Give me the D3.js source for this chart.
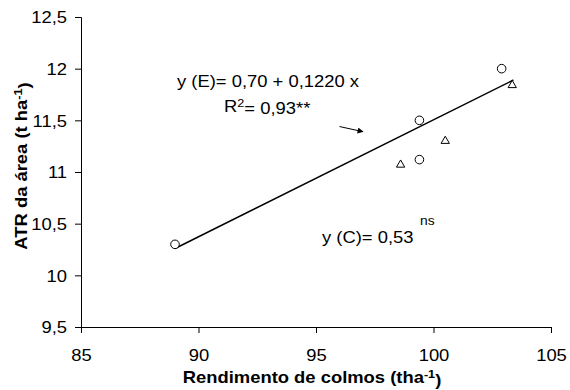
<!DOCTYPE html>
<html>
<head>
<meta charset="utf-8">
<script src="https://cdn.jsdelivr.net/npm/d3@7"></script>
<style>
  html, body { margin: 0; padding: 0; background: #fff; }
  svg { display: block; }
  text { font-family: "Liberation Sans", Arial, sans-serif; fill: #000; }
</style>
</head>
<body>
<svg id="chart" width="570" height="390"></svg>
<script>
// ---- data ----
const circleX = [89.0, 99.4, 99.4, 102.9];
const circleY = [10.30, 11.50, 11.12, 12.00];
const triangleX = [98.6, 100.5, 103.35];
const triangleY = [11.07, 11.30, 11.84];
const fitX = [89.0, 103.4];
const fitY = [10.26, 11.89];
const arrowX = [96.0, 97.0];
const arrowY = [11.44, 11.39];
const xTicks = [85, 90, 95, 100, 105];
const yTicks = [9.5, 10, 10.5, 11, 11.5, 12, 12.5];
const xDomain = [85, 105];
const yDomain = [9.5, 12.5];

const SX = 1.15; // horizontal text stretch of the original export
const svg = d3.select("#chart");
const x = d3.scaleLinear().domain(xDomain).range([81, 551]);
const y = d3.scaleLinear().domain(yDomain).range([327, 17]);
const fmt = v => String(v).replace(".", ",");

// axes
const gx = svg.append("g").attr("transform", "translate(0,327)")
  .call(d3.axisBottom(x).tickValues(xTicks).tickFormat(fmt).tickSizeOuter(0).tickSize(6));
const gy = svg.append("g").attr("transform", "translate(81,0)")
  .call(d3.axisLeft(y).tickValues(yTicks).tickFormat(fmt).tickSizeOuter(0).tickSize(6));
[gx, gy].forEach(g => {
  g.select(".domain").attr("stroke", "#000").attr("stroke-width", 1);
  g.selectAll(".tick line").attr("stroke", "#000").attr("stroke-width", 1);
  g.selectAll(".tick text").attr("font-size", 16).attr("font-family", null).attr("fill", "#000");
});
gx.selectAll(".tick text").attr("y", null).attr("dy", null)
  .attr("transform", "translate(0,34) scale(" + SX + ",1)");
gy.selectAll(".tick text").attr("x", null).attr("dy", "0.36em")
  .attr("transform", "translate(-14,0) scale(" + SX + ",1)");

// regression line
svg.append("line")
  .attr("x1", x(fitX[0])).attr("y1", y(fitY[0]))
  .attr("x2", x(fitX[1])).attr("y2", y(fitY[1]))
  .attr("stroke", "#000").attr("stroke-width", 1.5);

// arrow
svg.append("defs").append("marker")
  .attr("id", "ah").attr("viewBox", "0 0 10 10").attr("refX", 9).attr("refY", 5)
  .attr("markerWidth", 7).attr("markerHeight", 6).attr("markerUnits", "userSpaceOnUse")
  .attr("orient", "auto")
  .append("path").attr("d", "M0,0 L10,5 L0,10 Z").attr("fill", "#000");
svg.append("line")
  .attr("x1", x(arrowX[0])).attr("y1", y(arrowY[0]))
  .attr("x2", x(arrowX[1])).attr("y2", y(arrowY[1]))
  .attr("stroke", "#000").attr("stroke-width", 1).attr("marker-end", "url(#ah)");

// circles
svg.append("g").selectAll("circle").data(circleX).join("circle")
  .attr("cx", d => x(d)).attr("cy", (d, i) => y(circleY[i])).attr("r", 4.3)
  .attr("fill", "#fff").attr("stroke", "#000").attr("stroke-width", 1);

// triangles
const tri = d3.symbol().type(d3.symbolTriangle).size(30);
svg.append("g").selectAll("path").data(triangleX).join("path")
  .attr("d", tri)
  .attr("transform", (d, i) => `translate(${x(d)},${y(triangleY[i])})`)
  .attr("fill", "#fff").attr("stroke", "#000").attr("stroke-width", 1);

// text helper
function label(px, py, opts = {}) {
  const t = svg.append("text")
    .attr("transform", `translate(${px},${py}) ${opts.rotate ? "rotate(-90) " : ""}scale(${SX},1)`)
    .attr("font-size", opts.size || 16)
    .attr("font-weight", opts.bold ? "bold" : null)
    .attr("text-anchor", opts.anchor || "start");
  return t;
}
function sup(t, s, size) {
  t.append("tspan").attr("dy", "-0.45em").attr("font-size", size || 11).text(s);
  t.append("tspan").attr("dy", "0.45em").text("");
}

// equations
label(177, 87).text("y (E)= 0,70 + 0,1220 x");
{
  const t = label(224, 112);
  t.append("tspan").text("R");
  t.append("tspan").attr("dy", "-0.45em").attr("font-size", 11).text("2");
  t.append("tspan").attr("dy", "0.45em").text("= 0,93**");
}
label(322, 243).text("y (C)= 0,53");
label(420, 225, { size: 12 }).text("ns");

// axis titles
{
  const t = label(312, 383, { bold: true, anchor: "middle" });
  t.append("tspan").text("Rendimento de colmos (tha");
  t.append("tspan").attr("dy", "-0.5em").attr("font-size", 11).text("-1");
  t.append("tspan").attr("dy", "0.5em").text(")");
}
{
  const t = label(27, 166, { bold: true, anchor: "middle", rotate: true });
  t.append("tspan").text("ATR da área (t ha");
  t.append("tspan").attr("dy", "-0.5em").attr("font-size", 11).text("-1");
  t.append("tspan").attr("dy", "0.5em").text(")");
}
</script>
</body>
</html>
